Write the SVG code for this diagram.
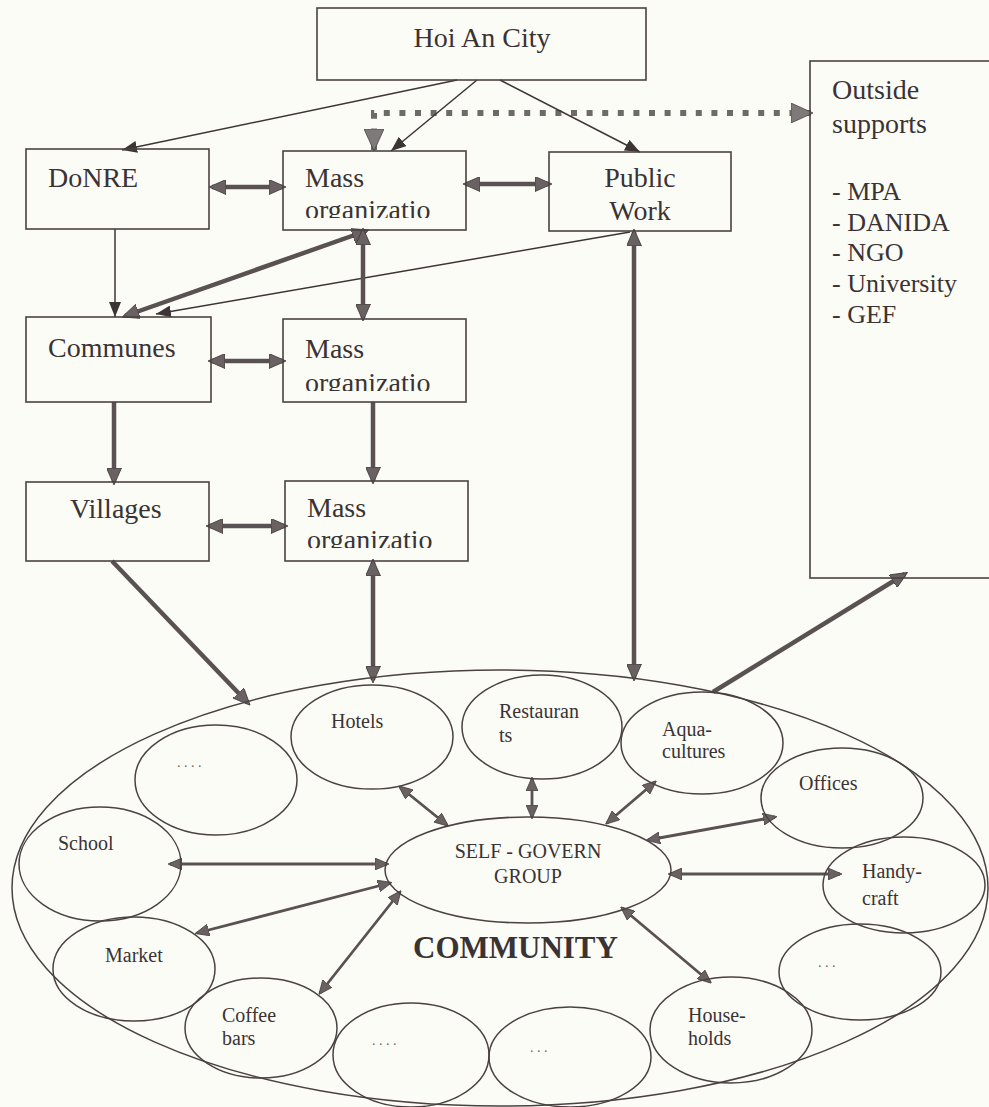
<svg xmlns="http://www.w3.org/2000/svg" width="989" height="1107" viewBox="0 0 989 1107">
<style>
.box{fill:none;stroke:#4a4242;stroke-width:1.6}
.ell{fill:none;stroke:#4a4242;stroke-width:1.5}
.t{font-family:"Liberation Serif","Times New Roman",serif;font-size:28px;fill:#3a3333}
.s{font-family:"Liberation Serif","Times New Roman",serif;font-size:20px;fill:#3a3333}
.d{font-family:"Liberation Serif","Times New Roman",serif;font-size:14px;letter-spacing:3.5px;fill:#6a6464}
.thin{fill:none;stroke:#3d3535;stroke-width:1.5}
.thick{fill:none;stroke:#5a5252;stroke-width:4.5}
.inner{fill:none;stroke:#5a5252;stroke-width:2.8}
.dot{fill:none;stroke:#6f6a6a;stroke-width:6;stroke-dasharray:6 9.6}
</style>
<defs>
<marker id="mThin" markerUnits="userSpaceOnUse" markerWidth="15" markerHeight="12" viewBox="0 0 15 12" refX="15" refY="6" orient="auto-start-reverse"><path d="M0,0 L15,6 L0,12 z" fill="#3d3535"/></marker>
<marker id="mThick" markerUnits="userSpaceOnUse" markerWidth="17" markerHeight="15" viewBox="0 0 17 15" refX="14" refY="7.5" orient="auto-start-reverse"><path d="M0,0 L17,7.5 L0,15 z" fill="#6a6262" stroke="#3d3535" stroke-width="0.8"/></marker>
<marker id="mIn" markerUnits="userSpaceOnUse" markerWidth="14" markerHeight="12" viewBox="0 0 14 12" refX="12" refY="6" orient="auto-start-reverse"><path d="M0,0 L14,6 L0,12 z" fill="#6a6262" stroke="#3d3535" stroke-width="0.7"/></marker>
<marker id="mDot" markerUnits="userSpaceOnUse" markerWidth="22" markerHeight="20" viewBox="0 0 22 20" refX="21" refY="10" orient="auto-start-reverse"><path d="M0,0 L22,10 L0,20 z" fill="#7f7a7a" stroke="#4a4242" stroke-width="0.8"/></marker>
<clipPath id="c1" clipPathUnits="userSpaceOnUse"><rect x="283" y="151" width="183" height="67"/></clipPath>
<clipPath id="c2" clipPathUnits="userSpaceOnUse"><rect x="283" y="319" width="183" height="72"/></clipPath>
<clipPath id="c3" clipPathUnits="userSpaceOnUse"><rect x="285" y="481" width="183" height="67"/></clipPath>
</defs>
<rect x="0" y="0" width="989" height="1107" fill="#fcfcf7"/>

<g id="connectors">
<path class="dot" d="M374,150 V113 H812" marker-start="url(#mDot)" marker-end="url(#mDot)"/>
<line class="thin" x1="457" y1="80" x2="122" y2="150" marker-end="url(#mThin)"/>
<line class="thin" x1="477" y1="80" x2="391" y2="151" marker-end="url(#mThin)"/>
<line class="thin" x1="500" y1="80" x2="640" y2="152" marker-end="url(#mThin)"/>
<line class="thick" x1="212" y1="187" x2="283" y2="187" marker-start="url(#mThick)" marker-end="url(#mThick)"/>
<line class="thick" x1="466" y1="184" x2="549" y2="184" marker-start="url(#mThick)" marker-end="url(#mThick)"/>
<line class="thin" x1="115" y1="229" x2="115" y2="317" marker-end="url(#mThin)"/>
<line class="thick" x1="366" y1="231" x2="125" y2="316" marker-start="url(#mThick)" marker-end="url(#mThick)"/>
<line class="thin" x1="630" y1="232" x2="156" y2="314" marker-end="url(#mThin)"/>
<line class="thick" x1="363" y1="231" x2="363" y2="318" marker-start="url(#mThick)" marker-end="url(#mThick)"/>
<line class="thick" x1="211" y1="361" x2="283" y2="361" marker-start="url(#mThick)" marker-end="url(#mThick)"/>
<line class="thick" x1="114" y1="402" x2="114" y2="482" marker-end="url(#mThick)"/>
<line class="thick" x1="373" y1="402" x2="373" y2="481" marker-end="url(#mThick)"/>
<line class="thick" x1="209" y1="526" x2="285" y2="526" marker-start="url(#mThick)" marker-end="url(#mThick)"/>
<line class="thick" x1="112" y1="561" x2="248" y2="703" marker-end="url(#mThick)"/>
<line class="thick" x1="373" y1="562" x2="373" y2="680" marker-start="url(#mThick)" marker-end="url(#mThick)"/>
<line class="thick" x1="634" y1="232" x2="634" y2="678" marker-start="url(#mThick)" marker-end="url(#mThick)"/>
<line class="thick" x1="713" y1="692" x2="905" y2="574" marker-end="url(#mThick)"/>
<line class="inner" x1="400" y1="787" x2="447" y2="825" marker-start="url(#mIn)" marker-end="url(#mIn)"/>
<line class="inner" x1="532" y1="779" x2="532" y2="817" marker-start="url(#mIn)" marker-end="url(#mIn)"/>
<line class="inner" x1="655" y1="782" x2="607" y2="823" marker-start="url(#mIn)" marker-end="url(#mIn)"/>
<line class="inner" x1="775" y1="817" x2="648" y2="840" marker-start="url(#mIn)" marker-end="url(#mIn)"/>
<line class="inner" x1="670" y1="874" x2="840" y2="874" marker-start="url(#mIn)" marker-end="url(#mIn)"/>
<line class="inner" x1="622" y1="908" x2="710" y2="982" marker-start="url(#mIn)" marker-end="url(#mIn)"/>
<line class="inner" x1="170" y1="864" x2="387" y2="864" marker-start="url(#mIn)" marker-end="url(#mIn)"/>
<line class="inner" x1="197" y1="933" x2="390" y2="883" marker-start="url(#mIn)" marker-end="url(#mIn)"/>
<line class="inner" x1="320" y1="993" x2="400" y2="892" marker-start="url(#mIn)" marker-end="url(#mIn)"/>
</g>

<g id="hoian"><rect class="box" x="317" y="8" width="329" height="72"/><text class="t" x="482" y="47" text-anchor="middle">Hoi An City</text></g>
<g id="outside"><rect class="box" x="810" y="61" width="200" height="517"/>
<text class="t" x="832" y="99" font-size="27">Outside</text><text class="t" x="832" y="133" font-size="27">supports</text>
<text class="t" x="832" y="200" style="font-size:26px">- MPA</text>
<text class="t" x="832" y="231" style="font-size:26px">- DANIDA</text>
<text class="t" x="832" y="261" style="font-size:26px">- NGO</text>
<text class="t" x="832" y="292" style="font-size:26px">- University</text>
<text class="t" x="832" y="323" style="font-size:26px">- GEF</text></g>
<g id="donre"><rect class="box" x="26" y="149" width="183" height="80"/><text class="t" x="48" y="187">DoNRE</text></g>
<g id="mass1"><rect class="box" x="283" y="151" width="183" height="79"/><text class="t" x="305" y="187">Mass</text><text class="t" x="305" y="219" clip-path="url(#c1)">organizatio</text></g>
<g id="publicwork"><rect class="box" x="549" y="152" width="182" height="79"/><text class="t" x="640" y="187" text-anchor="middle">Public</text><text class="t" x="640" y="220" text-anchor="middle">Work</text></g>
<g id="communes"><rect class="box" x="26" y="317" width="185" height="85"/><text class="t" x="48" y="357">Communes</text></g>
<g id="mass2"><rect class="box" x="283" y="319" width="183" height="83"/><text class="t" x="305" y="358">Mass</text><text class="t" x="305" y="392" clip-path="url(#c2)">organizatio</text></g>
<g id="villages"><rect class="box" x="26" y="482" width="183" height="79"/><text class="t" x="70" y="518">Villages</text></g>
<g id="mass3"><rect class="box" x="285" y="481" width="183" height="80"/><text class="t" x="307" y="517">Mass</text><text class="t" x="307" y="549" clip-path="url(#c3)">organizatio</text></g>

<g id="community"><ellipse class="ell" cx="500" cy="888" rx="488" ry="218"/>
<text class="s" x="413" y="958" style="font-size:31px;font-weight:bold">COMMUNITY</text></g>
<g id="hotels"><ellipse class="ell" cx="372" cy="737" rx="81" ry="52"/><text class="s" x="331" y="728">Hotels</text></g>
<g id="other1"><ellipse class="ell" cx="216" cy="780" rx="81" ry="55"/><text class="d" x="177" y="767">....</text></g>
<g id="school"><ellipse class="ell" cx="100" cy="864" rx="81" ry="57"/><text class="s" x="58" y="850">School</text></g>
<g id="market"><ellipse class="ell" cx="134" cy="969" rx="81" ry="52"/><text class="s" x="105" y="962">Market</text></g>
<g id="coffee"><ellipse class="ell" cx="261" cy="1028" rx="76" ry="50"/><text class="s" x="222" y="1022">Coffee</text><text class="s" x="222" y="1045">bars</text></g>
<g id="other2"><ellipse class="ell" cx="411" cy="1055" rx="78" ry="52"/><text class="d" x="372" y="1045">....</text></g>
<g id="other3"><ellipse class="ell" cx="570" cy="1057" rx="81" ry="50"/><text class="d" x="530" y="1052">...</text></g>
<g id="households"><ellipse class="ell" cx="731" cy="1030" rx="81" ry="53"/><text class="s" x="688" y="1022">House-</text><text class="s" x="688" y="1045">holds</text></g>
<g id="other4"><ellipse class="ell" cx="860" cy="972" rx="81" ry="48"/><text class="d" x="818" y="967">...</text></g>
<g id="handycraft"><ellipse class="ell" cx="904" cy="885" rx="81" ry="48"/><text class="s" x="862" y="878">Handy-</text><text class="s" x="862" y="905">craft</text></g>
<g id="offices"><ellipse class="ell" cx="842" cy="798" rx="81" ry="50"/><text class="s" x="799" y="790">Offices</text></g>
<g id="aqua"><ellipse class="ell" cx="702" cy="743" rx="81" ry="51"/><text class="s" x="662" y="736">Aqua-</text><text class="s" x="662" y="758">cultures</text></g>
<g id="restaurants"><ellipse class="ell" cx="542" cy="727" rx="80" ry="52"/><text class="s" x="499" y="718">Restauran</text><text class="s" x="499" y="742">ts</text></g>
<g id="selfgovern"><ellipse class="ell" cx="528" cy="870" rx="143" ry="53"/><text class="s" x="528" y="858" text-anchor="middle">SELF - GOVERN</text><text class="s" x="528" y="883" text-anchor="middle">GROUP</text></g>
</svg>
